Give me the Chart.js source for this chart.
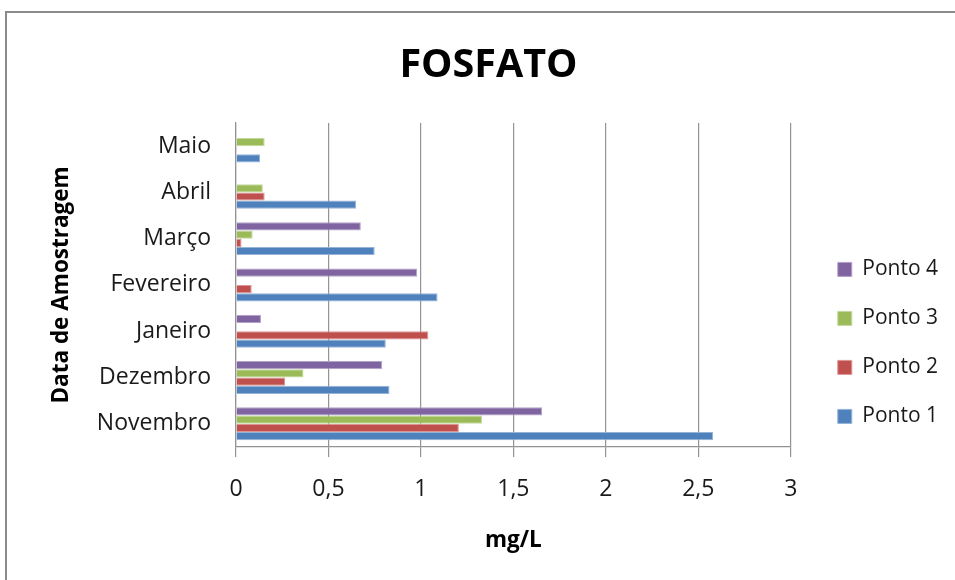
<!DOCTYPE html>
<html lang="pt">
<head>
<meta charset="utf-8">
<title>FOSFATO</title>
<script src="https://cdn.jsdelivr.net/npm/chart.js@4.4.1/dist/chart.umd.min.js"></script>
<style>
  html, body { margin: 0; padding: 0; background: #ffffff; overflow: hidden; width: 955px; height: 580px; }
  #frame { position: absolute; left: 5px; top: 11px; width: 1000px; height: 600px;
           border-left: 2px solid #8a8a8a; border-top: 2px solid #8a8a8a; box-sizing: border-box; }
  #wrap { position: absolute; left: 0; top: 0; width: 980px; height: 580px; }
</style>
</head>
<body>
<div id="frame"></div>
<div id="wrap"><canvas id="chart" width="980" height="580"></canvas></div>
<script>
// Sampling months, listed top to bottom
const categories = ['Maio', 'Abril', 'Março', 'Fevereiro', 'Janeiro', 'Dezembro', 'Novembro'];

// Phosphate concentration (mg/L) per sampling point
const ponto1 = [0.13, 0.65, 0.75, 1.09, 0.81, 0.83, 2.58];
const ponto2 = [null, 0.155, 0.03, 0.085, 1.04, 0.265, 1.205];
const ponto3 = [0.155, 0.145, 0.09, null, null, 0.365, 1.33];
const ponto4 = [null, null, 0.675, 0.98, 0.135, 0.79, 1.655];

const seriesNames = ['Ponto 4', 'Ponto 3', 'Ponto 2', 'Ponto 1'];
const xTicks = [0, 0.5, 1, 1.5, 2, 2.5, 3];

const FONT = "'Open Sans', 'Liberation Sans', sans-serif";

function series(label, data, fill, edge) {
  return {
    label: label,
    data: data,
    backgroundColor: fill,
    borderColor: edge,
    borderWidth: 1,
    categoryPercentage: 0.71,
    barPercentage: 1.0
  };
}

// Moves the legend column a little right and down inside its box
const legendShift = {
  id: 'legendShift',
  afterLayout(chart) {
    const lg = chart.legend;
    if (!lg) return;
    lg.left += 19;
    lg.right += 19;
    lg.bottom += 8;
  }
};

new Chart(document.getElementById('chart'), {
  type: 'bar',
  data: {
    labels: categories,
    datasets: [
      series(seriesNames[0], ponto4, '#8064A2', '#b3a2c8'),
      series(seriesNames[1], ponto3, '#9BBB59', '#c3d89e'),
      series(seriesNames[2], ponto2, '#C0504D', '#dc9593'),
      series(seriesNames[3], ponto1, '#4F81BD', '#95b3d7')
    ]
  },
  plugins: [legendShift],
  options: {
    indexAxis: 'y',
    responsive: false,
    animation: false,
    layout: { padding: { left: 48, right: 51, top: 0, bottom: 21.5 } },
    plugins: {
      title: {
        display: true,
        text: 'FOSFATO',
        color: '#000000',
        font: { family: FONT, size: 39.5, weight: 'bold', lineHeight: 1.2 },
        padding: { top: 42, bottom: 33.6 }
      },
      legend: {
        display: true,
        position: 'right',
        align: 'end',
        fullSize: false,
        labels: {
          color: '#1a1a1a',
          font: { family: FONT, size: 21 },
          boxWidth: 14,
          boxHeight: 14,
          padding: 28
        }
      },
      tooltip: { enabled: false }
    },
    scales: {
      x: {
        type: 'linear',
        min: 0,
        max: 3,
        afterBuildTicks(scale) { scale.ticks = xTicks.map(v => ({ value: v })); },
        ticks: {
          color: '#1a1a1a',
          font: { family: FONT, size: 23 },
          padding: 18.5,
          callback: v => String(v).replace('.', ',')
        },
        grid: {
          display: true,
          color: '#939393',
          lineWidth: 1.2,
          drawTicks: true,
          tickLength: 10,
          tickColor: '#939393'
        },
        border: { display: true, color: '#939393', width: 1.2 },
        title: {
          display: true,
          text: 'mg/L',
          color: '#000000',
          font: { family: FONT, size: 22.5, weight: 'bold', lineHeight: 1.2 },
          padding: { top: 6, bottom: 4 }
        }
      },
      y: {
        type: 'category',
        afterFit(scale) { scale.width = 188; },
        ticks: {
          color: '#1a1a1a',
          font: { family: FONT, size: 23 },
          padding: 25
        },
        grid: { display: false, drawTicks: false },
        border: { display: true, color: '#939393', width: 1.2 },
        title: {
          display: true,
          text: 'Data de Amostragem',
          color: '#000000',
          font: { family: FONT, size: 22.5, weight: 'bold', lineHeight: 1.2 },
          padding: { top: 0, bottom: 23 }
        }
      }
    }
  }
});
</script>
</body>
</html>
